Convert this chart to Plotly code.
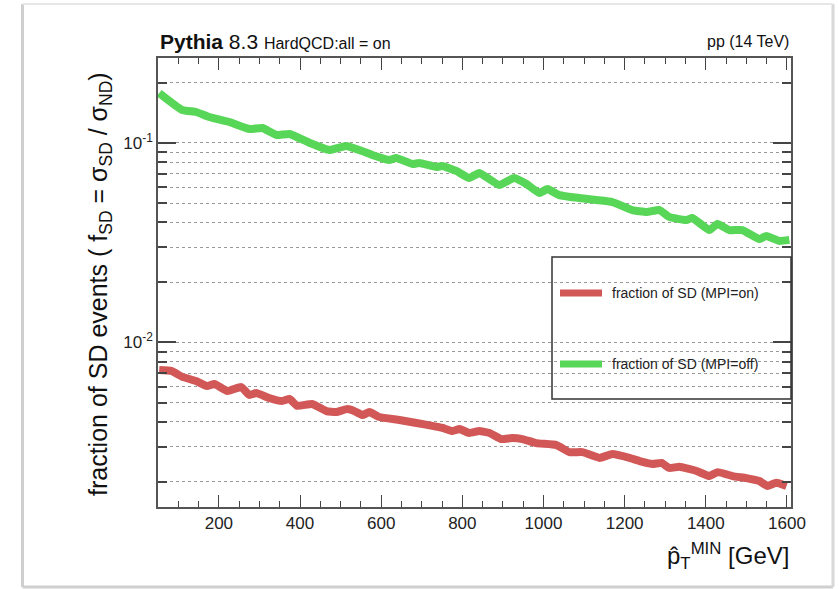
import plotly.graph_objects as go

# ---- data ----
x_on = [53, 83, 110, 144, 171, 189, 221, 255, 275, 292, 324, 356, 374, 393, 430, 465, 489, 517,
        534, 554, 571, 595, 645, 687, 726, 751, 776, 793, 817, 842, 867, 896, 923, 948, 982,
        1032, 1064, 1096, 1138, 1170, 1212, 1244, 1269, 1291, 1310, 1335, 1377, 1409, 1429,
        1466, 1500, 1532, 1552, 1574, 1599]
f_on = [0.00728, 0.00720, 0.00672, 0.00641, 0.00605, 0.00619, 0.00571, 0.00598, 0.00546, 0.00558,
        0.00527, 0.00509, 0.00521, 0.00481, 0.00492, 0.00453, 0.00448, 0.00464, 0.00453, 0.00433,
        0.00448, 0.00423, 0.00409, 0.00395, 0.00382, 0.00373, 0.00360, 0.00368, 0.00352, 0.00360,
        0.00352, 0.00328, 0.00332, 0.00328, 0.00313, 0.00306, 0.00282, 0.00282, 0.00264, 0.00276,
        0.00264, 0.00252, 0.00246, 0.00249, 0.00235, 0.00238, 0.00227, 0.00214, 0.00224, 0.00214,
        0.00209, 0.00202, 0.00191, 0.00198, 0.00191]

x_off = [53, 110, 144, 176, 226, 276, 307, 342, 374, 424, 472, 514, 546, 578, 620, 637, 677, 694,
         736, 751, 785, 817, 842, 891, 928, 958, 990, 1010, 1039, 1088, 1130, 1170, 1219, 1254,
         1286, 1310, 1352, 1367, 1409, 1429, 1458, 1490, 1532, 1549, 1581, 1606]
f_off = [0.178, 0.1463, 0.1430, 0.1350, 0.1274, 0.1175, 0.1189, 0.1097, 0.1109, 0.1000, 0.0922,
         0.0966, 0.0922, 0.0871, 0.0822, 0.0841, 0.0785, 0.0794, 0.0758, 0.0767, 0.0724, 0.0668,
         0.0707, 0.0616, 0.0668, 0.0623, 0.0562, 0.0588, 0.0548, 0.0530, 0.0518, 0.0506, 0.0461,
         0.0451, 0.0461, 0.0426, 0.0411, 0.0421, 0.0366, 0.0393, 0.0366, 0.0366, 0.0330, 0.0342,
         0.0323, 0.0327]

x_ticks = [200, 400, 600, 800, 1000, 1200, 1400, 1600]
y_major = [0.01, 0.1]
y_major_text = ["10<sup>-2</sup>", "10<sup>-1</sup>"]
y_minor = [0.002, 0.003, 0.004, 0.005, 0.006, 0.007, 0.008, 0.009,
           0.02, 0.03, 0.04, 0.05, 0.06, 0.07, 0.08, 0.09, 0.2]

RED = "#d25858"
GREEN = "#58d658"
FONT = "Liberation Sans, Arial, Helvetica, sans-serif"

fig = go.Figure()
fig.add_trace(go.Scatter(x=x_on, y=f_on, mode="lines", name="fraction of SD (MPI=on)",
                         line=dict(color=RED, width=8, shape="spline", smoothing=0.4)))
fig.add_trace(go.Scatter(x=x_off, y=f_off, mode="lines", name="fraction of SD (MPI=off)",
                         line=dict(color=GREEN, width=8, shape="spline", smoothing=0.4)))

fig.update_layout(
    width=839, height=589,
    margin=dict(l=158, r=48, t=58, b=82),
    paper_bgcolor="white", plot_bgcolor="white",
    font=dict(family=FONT, color="#222", size=17),
    showlegend=False,
    xaxis=dict(range=[50, 1610], tickvals=x_ticks, ticks="inside", ticklen=12, tickwidth=1.2,
               tickcolor="#444", showline=True, linecolor="#555", linewidth=1.5, mirror="ticks",
               showgrid=False, zeroline=False, tickfont=dict(size=17, family=FONT),
               minor=dict(dtick=50, ticks="inside", ticklen=6, tickcolor="#444", showgrid=False)),
    yaxis=dict(type="log", range=[-2.8246, -0.574], tickvals=y_major, ticktext=y_major_text,
               ticks="inside", ticklen=18, tickwidth=1.5, tickcolor="#444",
               showline=True, linecolor="#555", linewidth=1.5, mirror="ticks",
               showgrid=True, gridcolor="#999", griddash="dot", gridwidth=1,
               zeroline=False, tickfont=dict(size=17, family=FONT),
               minor=dict(tickvals=y_minor, ticks="inside", ticklen=9, tickcolor="#444",
                          showgrid=True, gridcolor="#999", griddash="dot", gridwidth=1)),
)

# Legend drawn manually (transparent box)
fig.add_shape(type="rect", xref="paper", yref="paper", x0=(552-158)/633, x1=1.0,
              y0=(507-399)/449, y1=(507-257)/449, line=dict(color="#333", width=1.5),
              fillcolor="rgba(0,0,0,0)")
for yy, col, name in [(293, RED, "fraction of SD (MPI=on)"), (364, GREEN, "fraction of SD (MPI=off)")]:
    yp = (507-yy)/449
    fig.add_shape(type="line", xref="paper", yref="paper", x0=(560-158)/633, x1=(602-158)/633,
                  y0=yp, y1=yp, line=dict(color=col, width=7))
    fig.add_annotation(xref="paper", yref="paper", x=(610-158)/633, y=yp, text=name,
                       showarrow=False, xanchor="left", yanchor="middle",
                       font=dict(size=14, family=FONT, color="#222"))

# Titles
fig.add_annotation(xref="paper", yref="paper", x=0, y=(507-42)/449, xanchor="left", yanchor="middle",
                   showarrow=False,
                   text="<b>Pythia</b> 8.3 <span style='font-size:16px'>HardQCD:all = on</span>",
                   font=dict(size=21, family=FONT, color="#111"))
fig.add_annotation(xref="paper", yref="paper", x=1.0, y=(507-42)/449, xanchor="right", yanchor="middle",
                   showarrow=False, text="pp (14 TeV)",
                   font=dict(size=16, family=FONT, color="#111"))
fig.add_annotation(xref="paper", yref="paper", x=1.0, y=(507-556)/449, xanchor="right", yanchor="middle",
                   showarrow=False, text="p\u0302<sub>T</sub><sup>MIN</sup> [GeV]",
                   font=dict(size=24, family=FONT, color="#111"))
fig.add_annotation(xref="paper", yref="paper", x=(100-158)/633, y=(507-284)/449, xanchor="center",
                   yanchor="middle", textangle=-90, showarrow=False,
                   text="fraction of SD events ( f<sub>SD</sub> = \u03c3<sub>SD</sub> / \u03c3<sub>ND</sub>)",
                   font=dict(size=25, family=FONT, color="#111"))

# Outer screenshot frame
for (x0, y0, x1, y1, w, c) in [(22.5, 4, 22.5, 587, 3, "#cfcfcf"), (22.5, 587, 833, 587, 3, "#cfcfcf"),
                               (833, 4, 833, 587, 3, "#d8d8d8"), (22.5, 4, 833, 4, 2, "#e6e6e6")]:
    fig.add_shape(type="line", xref="paper", yref="paper",
                  x0=(x0-158)/633, x1=(x1-158)/633, y0=(507-y0)/449, y1=(507-y1)/449,
                  line=dict(color=c, width=w))

fig.write_html("out.html")
